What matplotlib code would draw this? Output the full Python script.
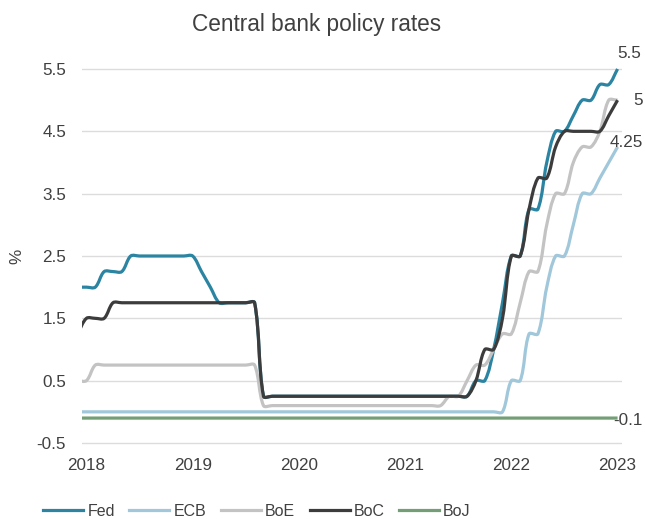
import numpy as np
import pandas as pd
import matplotlib
matplotlib.use("Agg")
import matplotlib.pyplot as plt
from matplotlib.path import Path
from matplotlib.patches import PathPatch
from matplotlib.lines import Line2D

plt.rcParams['font.family'] = ['Liberation Sans', 'DejaVu Sans']

# ---- data (monthly, Jun 2018 .. Jul 2023) ----
months = pd.period_range('2018-06', '2023-07', freq='M')

fed = [2.0, 2.0, 2.0, 2.25, 2.25, 2.25, 2.5, 2.5, 2.5, 2.5,
       2.5, 2.5, 2.5, 2.5, 2.25, 2.0, 1.75, 1.75, 1.75, 1.75,
       1.75, 0.25, 0.25, 0.25, 0.25, 0.25, 0.25, 0.25, 0.25, 0.25,
       0.25, 0.25, 0.25, 0.25, 0.25, 0.25, 0.25, 0.25, 0.25, 0.25,
       0.25, 0.25, 0.25, 0.25, 0.25, 0.5, 0.5, 1.0, 1.75, 2.5,
       2.5, 3.25, 3.25, 4.0, 4.5, 4.5, 4.75, 5.0, 5.0, 5.25,
       5.25, 5.5]
ecb = [0.0, 0.0, 0.0, 0.0, 0.0, 0.0, 0.0, 0.0, 0.0, 0.0,
       0.0, 0.0, 0.0, 0.0, 0.0, 0.0, 0.0, 0.0, 0.0, 0.0,
       0.0, 0.0, 0.0, 0.0, 0.0, 0.0, 0.0, 0.0, 0.0, 0.0,
       0.0, 0.0, 0.0, 0.0, 0.0, 0.0, 0.0, 0.0, 0.0, 0.0,
       0.0, 0.0, 0.0, 0.0, 0.0, 0.0, 0.0, 0.0, 0.0, 0.5,
       0.5, 1.25, 1.25, 2.0, 2.5, 2.5, 3.0, 3.5, 3.5, 3.75,
       4.0, 4.25]
boe = [0.5, 0.5, 0.75, 0.75, 0.75, 0.75, 0.75, 0.75, 0.75, 0.75,
       0.75, 0.75, 0.75, 0.75, 0.75, 0.75, 0.75, 0.75, 0.75, 0.75,
       0.75, 0.1, 0.1, 0.1, 0.1, 0.1, 0.1, 0.1, 0.1, 0.1,
       0.1, 0.1, 0.1, 0.1, 0.1, 0.1, 0.1, 0.1, 0.1, 0.1,
       0.1, 0.1, 0.25, 0.25, 0.5, 0.75, 0.75, 1.0, 1.25, 1.25,
       1.75, 2.25, 2.25, 3.0, 3.5, 3.5, 4.0, 4.25, 4.25, 4.5,
       5.0, 5.0]
boc = [1.25, 1.5, 1.5, 1.5, 1.75, 1.75, 1.75, 1.75, 1.75, 1.75,
       1.75, 1.75, 1.75, 1.75, 1.75, 1.75, 1.75, 1.75, 1.75, 1.75,
       1.75, 0.25, 0.25, 0.25, 0.25, 0.25, 0.25, 0.25, 0.25, 0.25,
       0.25, 0.25, 0.25, 0.25, 0.25, 0.25, 0.25, 0.25, 0.25, 0.25,
       0.25, 0.25, 0.25, 0.25, 0.25, 0.5, 1.0, 1.0, 1.5, 2.5,
       2.5, 3.25, 3.75, 3.75, 4.25, 4.5, 4.5, 4.5, 4.5, 4.5,
       4.75, 5.0]
boj = [-0.1] * len(months)

series_names = ['Fed', 'ECB', 'BoE', 'BoC', 'BoJ']
series_values = [fed, ecb, boe, boc, boj]
series_colors = ['#2B84A1', '#A0C7DA', '#C3C3C3', '#3C3C3C', '#739E76']

tick_months = ['2018-07', '2019-07', '2020-07', '2021-07', '2022-07', '2023-07']
tick_labels = ['2018', '2019', '2020', '2021', '2022', '2023']
y_ticks = [-0.5, 0.5, 1.5, 2.5, 3.5, 4.5, 5.5]

# end-of-line labels: series -> (offset px x, offset px y)
end_labels = {'Fed': (0, 15), 'BoC': (16, 0), 'ECB': (-8, 4), 'BoJ': (-4, -2.5)}

TXT = '#404040'


def smooth_path(ax, x, y):
    """Chord-length weighted cubic Bezier smoothing (Excel-like), computed in pixel space."""
    P = np.column_stack([np.asarray(x, float), np.asarray(y, float)])
    D = ax.transData.transform(P)
    n = len(P)
    cin = P.copy()
    cout = P.copy()
    k = 1.0 / 3.0
    for i in range(1, n - 1):
        T = P[i + 1] - P[i - 1]
        d1 = np.hypot(*(D[i] - D[i - 1]))
        d2 = np.hypot(*(D[i + 1] - D[i]))
        s = d1 + d2 if d1 + d2 > 0 else 1.0
        cin[i] = P[i] - T * k * d1 / s
        cout[i] = P[i] + T * k * d2 / s
    cout[0] = P[0] + (P[1] - P[0]) / 3.0
    cin[-1] = P[-1] - (P[-1] - P[-2]) / 3.0
    verts = [P[0]]
    codes = [Path.MOVETO]
    for i in range(n - 1):
        verts += [cout[i], cin[i + 1], P[i + 1]]
        codes += [Path.CURVE4] * 3
    return Path(verts, codes)


W, H = 645, 519
fig = plt.figure(figsize=(W / 100, H / 100), dpi=100)
ppu = (443 - 69) / 6.0
top_px = 69 - 0.1 * ppu
bot_px = 443 + 0.1 * ppu
ax = fig.add_axes([82 / W, (H - bot_px) / H, 540 / W, (bot_px - top_px) / H])
ax.set_xlim(0.5, 61.5)
ax.set_ylim(-0.6, 5.6)

x = np.arange(len(months))
month_pos = {str(m): i for i, m in enumerate(months)}

for name, vals, col in zip(series_names, series_values, series_colors):
    patch = PathPatch(smooth_path(ax, x, vals), fill=False, edgecolor=col,
                      lw=2.3, capstyle='butt', joinstyle='round', zorder=3)
    ax.add_patch(patch)
    if name in end_labels:
        dx, dy = end_labels[name]
        ax.annotate(f"{vals[-1]:g}", xy=(x[-1], vals[-1]), xytext=(dx, dy),
                    textcoords='offset pixels', ha='left', va='center',
                    fontsize=12.3, color=TXT, annotation_clip=False, zorder=4)

ax.set_xticks([month_pos[m] for m in tick_months])
ax.set_xticklabels(tick_labels)
ax.set_yticks(y_ticks)
ax.set_yticklabels([f"{v:g}" for v in y_ticks])
ax.tick_params(axis='both', length=0, labelsize=12.3, labelcolor=TXT)
ax.tick_params(axis='x', pad=6.6)
ax.tick_params(axis='y', pad=11.5)
for s in ax.spines.values():
    s.set_visible(False)
ax.grid(axis='y', color='#DCDCDC', lw=1.0)
ax.set_axisbelow(True)

fig.text(317 / W, 1 - 24 / H, 'Central bank policy rates', ha='center', va='center',
         fontsize=16.3, color=TXT)
fig.text(17 / W, 1 - 256 / H, '%', rotation=90, ha='center', va='center',
         fontsize=12.3, color=TXT)

handles = [Line2D([0], [0], color=c, lw=2.3) for c in series_colors]
leg = fig.legend(handles, series_names, loc='center', bbox_to_anchor=(257 / W, 8 / H),
                 ncol=5, frameon=False, handlelength=2.5, handletextpad=0.25,
                 columnspacing=0.92, borderpad=0, fontsize=11.5)
for t in leg.get_texts():
    t.set_color(TXT)

fig.savefig('out.png', dpi=100)
